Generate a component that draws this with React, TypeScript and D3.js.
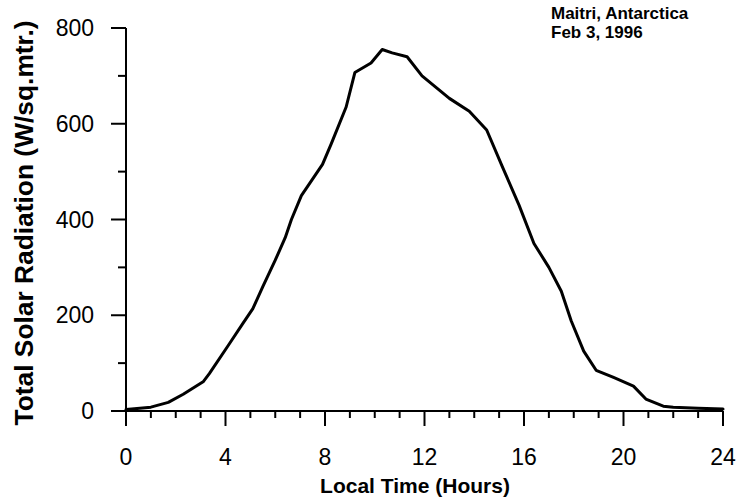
import React from "react";
import * as d3 from "d3";

// Hourly total solar radiation, Maitri, Antarctica, Feb 3 1996
const hours: number[] = [
  0, 1, 1.7, 2.3, 3.1, 3.35, 4.15, 4.7, 5.1, 5.5, 6.0, 6.4, 6.65, 7.05, 7.9,
  8.25, 8.85, 9.2, 9.85, 10.3, 10.7, 11.3, 11.9, 13.0, 13.8, 14.5, 15.15, 15.8,
  16.4, 17.0, 17.5, 17.9, 18.4, 18.9, 19.6, 20.4, 20.9, 21.6, 22, 23, 24,
];
const radiation: number[] = [
  3, 8, 18, 35, 61, 78, 140, 183, 214, 260, 315, 362, 400, 450, 515,
  558, 635, 707, 727, 755, 748, 740, 700, 653, 626, 587, 508, 430,
  350, 300, 250, 188, 125, 85, 70, 52, 25, 10, 8, 6, 4,
];
const xTickLabels: number[] = [0, 4, 8, 12, 16, 20, 24];
const yTickLabels: number[] = [0, 200, 400, 600, 800];
const xTitle = "Local Time (Hours)";
const yTitle = "Total Solar Radiation (W/sq.mtr.)";
const noteLines: string[] = ["Maitri, Antarctica", "Feb 3, 1996"];

const W = 743;
const H = 503;
const FONT = "'Liberation Sans', Arial, Helvetica, sans-serif";

export default function App() {
  const x = d3.scaleLinear().domain([0, 24]).range([126, 723]);
  const y = d3.scaleLinear().domain([0, 800]).range([411, 28]);
  const data = hours.map((h, i) => [h, radiation[i]] as [number, number]);
  const line = d3
    .line<[number, number]>()
    .x((d) => x(d[0]))
    .y((d) => y(d[1]))
    .curve(d3.curveLinear);

  const xMinor = d3.range(0, 25, 1);
  const yMinor = d3.range(0, 801, 100);
  const x0 = x(0);
  const y0 = y(0);

  return (
    <svg
      width={W}
      height={H}
      viewBox={`0 0 ${W} ${H}`}
      style={{ position: "absolute", left: 0, top: 0, background: "#fff" }}
      fontFamily={FONT}
    >
      <rect x={0} y={0} width={W} height={H} fill="#fff" />
      {/* axes lines */}
      <line x1={x0} x2={x0} y1={y(800)} y2={y0} stroke="#000" strokeWidth={2} />
      <line x1={x0} x2={x(24)} y1={y0} y2={y0} stroke="#000" strokeWidth={2} />
      {/* x ticks */}
      {xMinor.map((h) => (
        <line
          key={"xt" + h}
          x1={x(h)}
          x2={x(h)}
          y1={y0}
          y2={y0 + (h % 4 === 0 ? 15 : 7)}
          stroke="#000"
          strokeWidth={2}
        />
      ))}
      {/* y ticks */}
      {yMinor.map((v) => (
        <line
          key={"yt" + v}
          x1={x0}
          x2={x0 - (v % 200 === 0 ? 15 : 8)}
          y1={y(v)}
          y2={y(v)}
          stroke="#000"
          strokeWidth={2}
        />
      ))}
      {/* x tick labels */}
      {xTickLabels.map((h) => (
        <text
          key={"xl" + h}
          x={x(h)}
          y={465}
          textAnchor="middle"
          fontSize={23}
          fill="#000"
        >
          {h}
        </text>
      ))}
      {/* y tick labels */}
      {yTickLabels.map((v) => (
        <text
          key={"yl" + v}
          x={94}
          y={y(v) + 8}
          textAnchor="end"
          fontSize={23}
          fill="#000"
        >
          {v}
        </text>
      ))}
      {/* axis titles */}
      <text
        x={415}
        y={493}
        textAnchor="middle"
        fontSize={21}
        fontWeight="bold"
        fill="#000"
      >
        {xTitle}
      </text>
      <text
        transform={`translate(33,223) rotate(-90)`}
        textAnchor="middle"
        fontSize={25}
        fontWeight="bold"
        fill="#000"
        textLength={405}
        lengthAdjust="spacingAndGlyphs"
      >
        {yTitle}
      </text>
      {/* annotation */}
      {noteLines.map((t, i) => (
        <text
          key={"n" + i}
          x={551}
          y={19 + i * 19}
          fontSize={17}
          fontWeight="bold"
          fill="#000"
        >
          {t}
        </text>
      ))}
      {/* curve */}
      <path
        d={line(data) || ""}
        fill="none"
        stroke="#000"
        strokeWidth={3}
        strokeLinejoin="round"
        strokeLinecap="round"
      />
    </svg>
  );
}
